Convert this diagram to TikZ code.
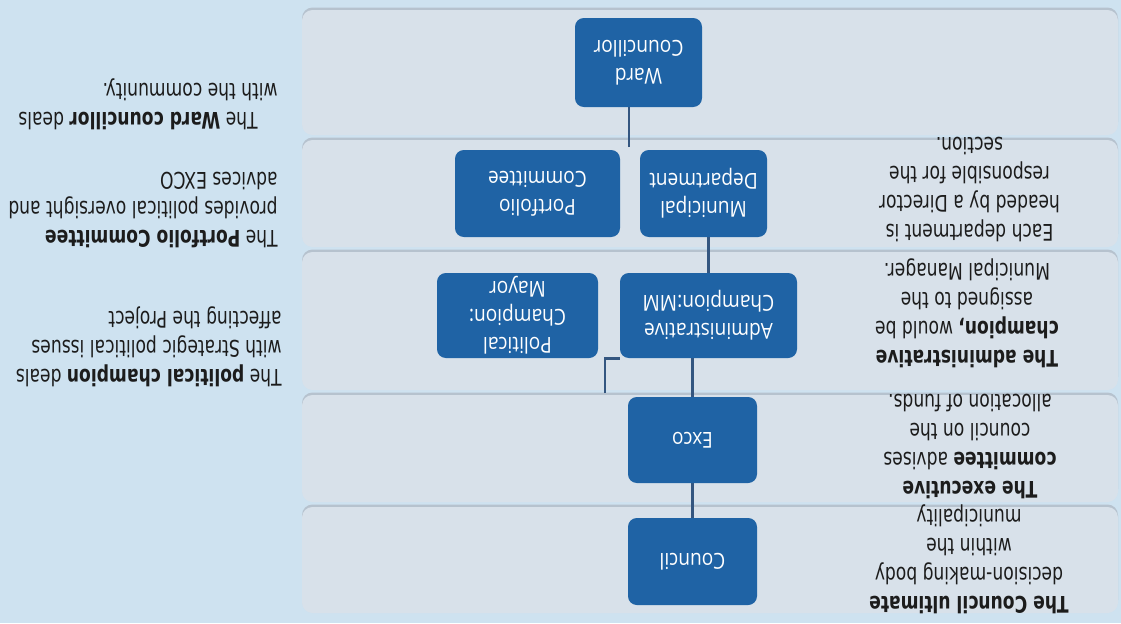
\documentclass[tikz,border=0pt]{standalone}
\usepackage{fontspec}
\usetikzlibrary{backgrounds}
\newfontfamily\notefont[FakeStretch=0.75]{DejaVu Sans}
\newfontfamily\boxfont[FakeStretch=0.87]{Open Sans}
\definecolor{skyback}{RGB}{206,226,240}
\definecolor{bandgrey}{RGB}{216,225,234}
\definecolor{bandedge}{RGB}{182,194,206}
\definecolor{boxblue}{RGB}{31,99,165}
\definecolor{linkblue}{RGB}{52,86,128}
\definecolor{notegrey}{RGB}{28,28,28}

\begin{document}
\begin{tikzpicture}[chartbox/.style={rectangle, rounded corners=5pt, fill=boxblue, text=white, align=center, inner sep=0pt, font=\boxfont\fontsize{12.5}{16}\selectfont}, note/.style={text=notegrey, inner sep=0pt, font=\notefont\fontsize{13}{16.5}\selectfont}, link/.style={draw=linkblue, line width=1.6pt}]
	\useasboundingbox (0,0) rectangle (22.42,-12.46);
	% the chart is printed upside down
	\begin{scope}[shift={(22.42,-12.46)}, rotate=180, transform shape]
		\node [chartbox, minimum width=2.58cm, minimum height=1.74cm] (council) at (8.57,-1.23) {Council};
		\node [chartbox, minimum width=2.58cm, minimum height=1.72cm] (exco) at (8.57,-3.66) {Exco};
		\node [chartbox, minimum width=3.54cm, minimum height=1.70cm] (admin) at (8.25,-6.15) {Administrative\\Champion:MM};
		\node [chartbox, minimum width=3.22cm, minimum height=1.70cm] (political) at (12.07,-6.15) {Political\\Champion:\\Mayor};
		\node [chartbox, minimum width=2.54cm, minimum height=1.74cm] (municipal) at (8.35,-8.59) {Municipal\\Department};
		\node [chartbox, minimum width=3.30cm, minimum height=1.74cm] (portfolio) at (11.67,-8.59) {Portfolio\\Committee};
		\node [chartbox, minimum width=2.54cm, minimum height=1.78cm] (ward) at (9.65,-11.21) {Ward\\Councillor};
		\coordinate (bar) at (10.32,-4.60);
		\coordinate (wardtop) at (9.84,-9.52);

		\node [note, align=center] (councilnote) at (3.04,-1.28) {\textbf{The Council ultimate}\\decision-making body\\within the\\municipality};
		\node [note, align=center] (exconote) at (3.02,-3.52) {\textbf{The executive}\\\textbf{committee} advises\\council on the\\allocation of funds.};
		\node [note, align=center] (adminnote) at (3.08,-6.20) {\textbf{The administrative}\\\textbf{champion,} would be\\assigned to the\\Municipal Manager.};
		\node [note, align=center] (deptnote) at (3.03,-8.66) {Each department is\\headed by a Director\\responsible for the\\section.};
		\node [note, align=left, anchor=west] (politicalnote) at (16.78,-5.52) {The \textbf{political champion} deals\\with Strategic political issues\\affecting the Project};
		\node [note, align=left, anchor=west] (portfolionote) at (16.86,-8.26) {The \textbf{Portfolio Committee}\\provides political oversight and\\advices EXCO};
		\node [note, align=left, anchor=west] (wardnote) at (16.86,-10.38) {\hspace*{0.4cm}The \textbf{Ward councillor} deals\\with the community.};

		\begin{pgfonlayer}{background}
			\fill [skyback] (0,0) rectangle (22.42,-12.46);
			\foreach \ya/\yb in {0.20/2.32, 2.42/4.56, 4.66/7.42, 7.52/9.66, 9.76/12.26} {
				\fill [bandedge, rounded corners=6pt] (0.06,-\ya-0.05) rectangle (16.38,-\yb-0.05);
				\fill [bandgrey, rounded corners=6pt] (0.06,-\ya) rectangle (16.38,-\yb);
			}
			\draw [link] (council) -- (exco);
			\draw [link] (exco.south) -- (exco.south |- admin.north);
			\draw [link] (bar) |- (admin.north east);
			\draw [link] (admin.south) -- (admin.south |- municipal.north);
			\draw [link] (wardtop) -- (wardtop |- ward.north);
		\end{pgfonlayer}
	\end{scope}
\end{tikzpicture}
\end{document}
